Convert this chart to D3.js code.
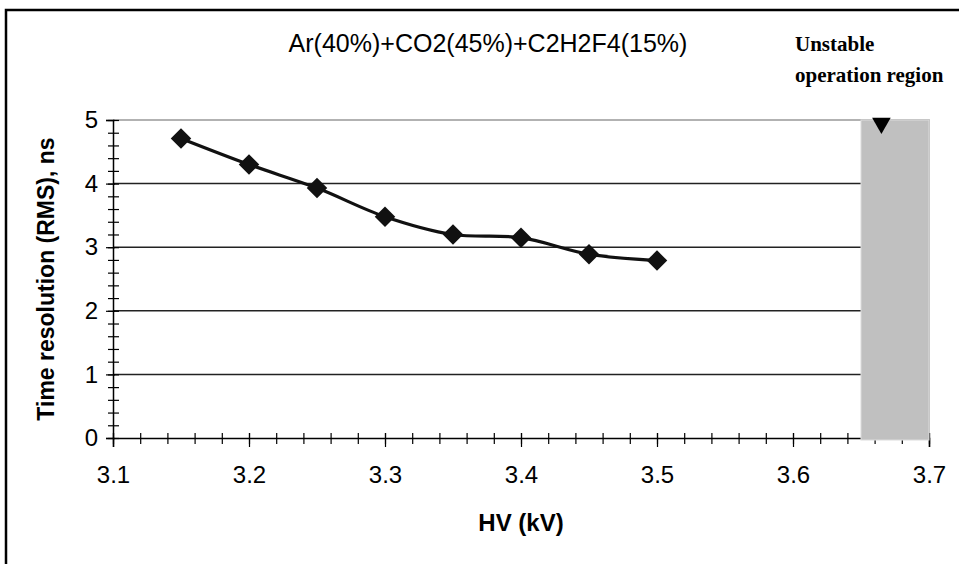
<!DOCTYPE html>
<html>
<head>
<meta charset="utf-8">
<script src="https://cdn.jsdelivr.net/npm/d3@7"></script>
<style>
  body { margin: 0; background: #fff; }
  svg { display: block; }
</style>
</head>
<body>
<div id="chart"></div>
<script>
// data
var hv = [3.15, 3.2, 3.25, 3.3, 3.35, 3.4, 3.45, 3.5];
var rms = [4.71, 4.30, 3.93, 3.48, 3.20, 3.15, 2.89, 2.79];
var xTicks = [3.1, 3.2, 3.3, 3.4, 3.5, 3.6, 3.7];
var yTicks = [0, 1, 2, 3, 4, 5];
var unstableRange = [3.65, 3.7];
var unstableMarker = [3.665, 4.95];
var gasTitle = "Ar(40%)+CO2(45%)+C2H2F4(15%)";
var unstableLabel = ["Unstable", "operation region"];

var width = 959, height = 564;
var plot = { left: 113, right: 929, top: 120, bottom: 438 };

window.onload = function() {
  var svg = d3.select("#chart").append("svg")
    .attr("width", width)
    .attr("height", height);

  // outer frame (only left and top are visible)
  svg.append("rect")
    .attr("x", 6).attr("y", 10)
    .attr("width", 1000).attr("height", 700)
    .attr("fill", "none")
    .attr("stroke", "#000")
    .attr("stroke-width", 2.5);

  var x = d3.scaleLinear().domain([3.1, 3.7]).range([plot.left, plot.right]);
  var y = d3.scaleLinear().domain([0, 5]).range([plot.bottom, plot.top]);

  // gridlines
  svg.append("g")
    .selectAll("line")
    .data(yTicks.filter(function(d) { return d > 0 && d < 5; }))
    .enter().append("line")
    .attr("x1", plot.left).attr("x2", plot.right)
    .attr("y1", function(d) { return y(d); })
    .attr("y2", function(d) { return y(d); })
    .attr("stroke", "#222")
    .attr("stroke-width", 1.5);

  // plot area border (top and right)
  svg.append("path")
    .attr("d", "M" + plot.left + "," + y(5) + "H" + x(3.7) + "V" + y(0))
    .attr("fill", "none")
    .attr("stroke", "#999")
    .attr("stroke-width", 1.5);

  // x axis, minor ticks crossing the line
  var xMinor = svg.append("g")
    .attr("transform", "translate(0," + plot.bottom + ")")
    .call(d3.axisBottom(x).ticks(30).tickSize(6).tickFormat(""));
  xMinor.select(".domain").remove();
  xMinor.selectAll("line").attr("y1", -5).attr("stroke-width", 1.2);

  var xAxis = svg.append("g")
    .attr("transform", "translate(0," + plot.bottom + ")")
    .call(d3.axisBottom(x).tickValues(xTicks).tickSize(9).tickPadding(19)
      .tickFormat(d3.format(".1f")));
  xAxis.select(".domain").attr("stroke-width", 1.5);
  xAxis.selectAll("line").attr("y1", -5).attr("stroke-width", 1.2);
  xAxis.selectAll("text")
    .attr("font-family", "Arial, 'Liberation Sans', sans-serif")
    .attr("font-size", 24)
    .attr("fill", "#000");

  // y axis
  var yMinor = svg.append("g")
    .attr("transform", "translate(" + plot.left + ",0)")
    .call(d3.axisLeft(y).ticks(25).tickSize(5).tickFormat(""));
  yMinor.select(".domain").remove();
  yMinor.selectAll("line").attr("x1", 6).attr("stroke-width", 1.2);

  var yAxis = svg.append("g")
    .attr("transform", "translate(" + plot.left + ",0)")
    .call(d3.axisLeft(y).tickValues(yTicks).tickSize(7).tickPadding(8)
      .tickFormat(d3.format("d")));
  yAxis.select(".domain").attr("stroke-width", 1.5);
  yAxis.selectAll("line").attr("x1", 2).attr("stroke-width", 1.2);
  yAxis.selectAll("text")
    .attr("font-family", "Arial, 'Liberation Sans', sans-serif")
    .attr("font-size", 24)
    .attr("fill", "#000");

  // unstable region
  svg.append("rect")
    .attr("x", x(unstableRange[0]))
    .attr("y", y(5))
    .attr("width", x(unstableRange[1]) - x(unstableRange[0]))
    .attr("height", y(0) - y(5) + 2)
    .attr("fill", "#c0c0c0")
    .attr("stroke", "#dcdcdc")
    .attr("stroke-width", 1);

  svg.append("path")
    .attr("d", d3.symbol().type(d3.symbolTriangle).size(150)())
    .attr("transform", "translate(" + x(unstableMarker[0]) + "," + y(unstableMarker[1]) + ") rotate(180)")
    .attr("fill", "#000");

  // the series
  var pts = hv.map(function(d, i) { return [d, rms[i]]; });

  svg.append("path")
    .datum(pts)
    .attr("fill", "none")
    .attr("stroke", "#111")
    .attr("stroke-width", 3.2)
    .attr("d", d3.line()
      .x(function(d) { return x(d[0]); })
      .y(function(d) { return y(d[1]); })
      .curve(d3.curveCatmullRom.alpha(0.5)));

  svg.append("g")
    .selectAll("path")
    .data(pts)
    .enter().append("path")
    .attr("d", d3.symbol().type(d3.symbolSquare).size(210)())
    .attr("transform", function(d) {
      return "translate(" + x(d[0]) + "," + y(d[1]) + ") rotate(45)";
    })
    .attr("fill", "#111");

  // texts
  svg.append("text")
    .attr("x", 488).attr("y", 52)
    .attr("text-anchor", "middle")
    .attr("font-family", "Arial, 'Liberation Sans', sans-serif")
    .attr("font-size", 25)
    .text(gasTitle);

  svg.selectAll(".unstable")
    .data(unstableLabel)
    .enter().append("text")
    .attr("class", "unstable")
    .attr("x", 795)
    .attr("y", function(d, i) { return 51 + i * 31; })
    .attr("font-family", "'Liberation Serif', 'Times New Roman', serif")
    .attr("font-weight", "bold")
    .attr("font-size", 21)
    .text(function(d) { return d; });

  svg.append("text")
    .attr("x", (plot.left + plot.right) / 2).attr("y", 531)
    .attr("text-anchor", "middle")
    .attr("font-family", "Arial, 'Liberation Sans', sans-serif")
    .attr("font-weight", "bold")
    .attr("font-size", 24)
    .text("HV (kV)");

  svg.append("text")
    .attr("transform", "translate(54," + (plot.top + plot.bottom) / 2 + ") rotate(-90)")
    .attr("text-anchor", "middle")
    .attr("font-family", "Arial, 'Liberation Sans', sans-serif")
    .attr("font-weight", "bold")
    .attr("font-size", 23)
    .text("Time resolution (RMS), ns");
};
</script>
</body>
</html>
